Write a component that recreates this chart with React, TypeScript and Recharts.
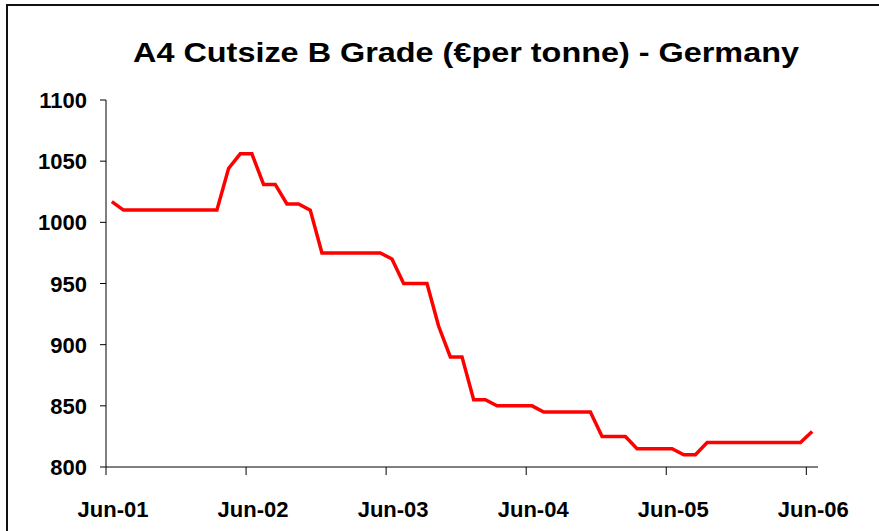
import React from 'react';
import { LineChart, Line, XAxis, YAxis } from 'recharts';

const title = 'A4 Cutsize B Grade (€per tonne) - Germany';
const tickLabels = ['Jun-01', 'Jun-02', 'Jun-03', 'Jun-04', 'Jun-05', 'Jun-06'];
const tickMonths = [0, 12, 24, 36, 48, 60];
const yTicks = [800, 850, 900, 950, 1000, 1050, 1100];
// Monthly prices, Jun-01 .. Jun-06 (61 months)
const prices = [
  1017, 1010, 1010, 1010, 1010, 1010, 1010, 1010, 1010, 1010,
  1044, 1056, 1056, 1031, 1031, 1015, 1015, 1010, 975, 975,
  975, 975, 975, 975, 970, 950, 950, 950, 915, 890,
  890, 855, 855, 850, 850, 850, 850, 845, 845, 845,
  845, 845, 825, 825, 825, 815, 815, 815, 815, 810,
  810, 820, 820, 820, 820, 820, 820, 820, 820, 820,
  829,
];

const data = prices.map((v, i) => ({ m: i + 0.5, v }));

const FONT = '"Liberation Sans", Arial, Helvetica, sans-serif';

const XTick = (props: any) => {
  const { x, y, payload } = props;
  const idx = tickMonths.indexOf(payload.value);
  return (
    <text x={x + 7} y={y + 42} textAnchor="middle" fontFamily={FONT} fontWeight="bold" fontSize={22} fill="#000">
      {idx >= 0 ? tickLabels[idx] : ''}
    </text>
  );
};

const YTick = (props: any) => {
  const { x, y, payload } = props;
  return (
    <text x={x} y={y + 8} textAnchor="end" fontFamily={FONT} fontWeight="bold" fontSize={22} fill="#000">
      {payload.value}
    </text>
  );
};

export default function App() {
  return (
    <div style={{ position: 'fixed', left: 0, top: 0, width: 879, height: 531, overflow: 'hidden', background: '#fff' }}>
      <div style={{ position: 'absolute', left: 6, top: 4, width: 890, height: 560, border: '2px solid #111', boxSizing: 'border-box' }} />
      <svg style={{ position: 'absolute', left: 0, top: 0 }} width={879} height={90}>
        <text
          x={0}
          y={62}
          transform="translate(466,0) scale(1.2,1)"
          textAnchor="middle"
          fontFamily={FONT}
          fontWeight="bold"
          fontSize={27}
          fill="#000"
        >
          {title}
        </text>
      </svg>
      <div style={{ position: 'absolute', left: 0, top: 0 }}>
        <LineChart width={879} height={531} data={data} margin={{ top: 100, right: 61, bottom: 24, left: 0 }}>
          <XAxis
            dataKey="m"
            type="number"
            domain={[0, 61]}
            ticks={tickMonths}
            interval={0}
            height={40}
            tickSize={8}
            tickMargin={0}
            axisLine={{ stroke: '#000', strokeWidth: 1 }}
            tickLine={{ stroke: '#000', strokeWidth: 1 }}
            tick={<XTick />}
          />
          <YAxis
            domain={[800, 1100]}
            ticks={yTicks}
            interval={0}
            width={106}
            tickSize={6}
            tickMargin={13}
            axisLine={{ stroke: '#000', strokeWidth: 1 }}
            tickLine={{ stroke: '#000', strokeWidth: 1 }}
            tick={<YTick />}
          />
          <Line
            type="linear"
            dataKey="v"
            stroke="#ff0000"
            strokeWidth={3.5}
            dot={false}
            isAnimationActive={false}
          />
        </LineChart>
      </div>
    </div>
  );
}
